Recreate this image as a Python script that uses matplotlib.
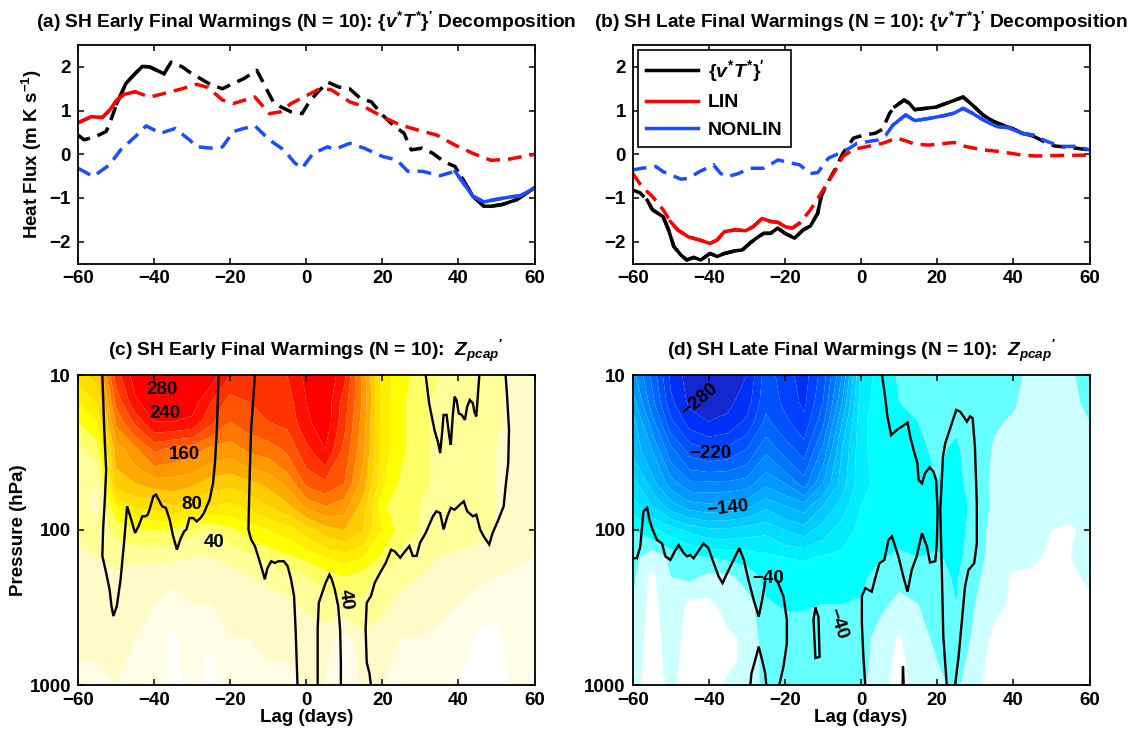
import numpy as np
import matplotlib
matplotlib.use("Agg")
import matplotlib.pyplot as plt
from matplotlib.lines import Line2D
from matplotlib.ticker import FixedLocator, FixedFormatter, NullLocator

plt.rcParams['font.family'] = ['Liberation Sans', 'DejaVu Sans']
plt.rcParams['font.weight'] = 'bold'
plt.rcParams['axes.labelweight'] = 'bold'
plt.rcParams['axes.titleweight'] = 'bold'
plt.rcParams['mathtext.fontset'] = 'custom'
plt.rcParams['mathtext.rm'] = 'Liberation Sans:bold'
plt.rcParams['mathtext.bf'] = 'Liberation Sans:bold'
plt.rcParams['mathtext.it'] = 'Liberation Sans:italic:bold'
plt.rcParams['mathtext.default'] = 'bf'

# ---------------- data: heat flux decomposition ----------------
a_black_lag = [-60, -58.4, -55.5, -52.6, -51.7, -49.8, -47.4, -45.5, -43.1, -41.2, -38.3, -37.4, -35.5, -32.6,
               -30.7, -27.8, -24.9, -22.0, -19.2, -16.4, -13.0, -11.6, -8.7, -6.8, -4.0, -1.1, 0.8, 2.7, 5.6,
               8.5, 11.4, 14.2, 17.1, 20.0, 22.8, 25.7, 27.6, 30.5, 33.3, 36.2, 39.1, 41.0, 43.8, 46.7, 48.6,
               51.5, 55.3, 60]
a_black_val = [0.44, 0.33, 0.40, 0.52, 0.70, 1.16, 1.62, 1.80, 2.01, 2.00, 1.88, 1.84, 2.11, 2.00,
               1.88, 1.73, 1.58, 1.50, 1.62, 1.73, 1.92, 1.69, 1.20, 1.09, 0.97, 0.93, 1.20, 1.39, 1.65,
               1.54, 1.50, 1.28, 1.20, 0.90, 0.67, 0.48, 0.10, 0.14, 0.02, -0.17, -0.28, -0.55, -0.96, -1.19, -1.19,
               -1.15, -1.04, -0.77]
a_red_lag = [-60, -56.5, -53.6, -51.7, -49.8, -47.9, -45.0, -41.2, -38.3, -32.6, -28.8, -25.9, -22.0, -19.2,
             -13.5, -9.7, -6.8, -4.0, -0.2, 3.6, 6.5, 11.4, 15.2, 20.0, 24.7, 29.5, 34.3, 39.1, 43.8, 48.6,
             53.4, 60]
a_red_val = [0.72, 0.86, 0.84, 1.01, 1.24, 1.37, 1.43, 1.31, 1.37, 1.50, 1.60, 1.53, 1.24, 1.16,
             1.31, 0.93, 0.97, 1.16, 1.33, 1.50, 1.48, 1.20, 1.09, 0.86, 0.67, 0.55, 0.44, 0.21, 0.02, -0.14,
             -0.11, 0.0]
a_blue_lag = [-60, -56, -51.7, -48.8, -45, -42.1, -38.3, -34.5, -30.7, -28.8, -24.9, -22, -19.2, -16.4, -13.5,
              -9.7, -5.9, -3.0, -1.1, 1.8, 5.6, 7.5, 11.4, 15.2, 20, 23.8, 26.7, 30.5, 35.2, 39.1, 41, 43.8,
              46.7, 49.5, 53.4, 56.3, 60]
a_blue_val = [-0.32, -0.51, -0.24, 0.10, 0.40, 0.65, 0.48, 0.59, 0.33, 0.17, 0.14, 0.17, 0.52, 0.59, 0.65,
              0.33, 0.10, -0.20, -0.32, 0.02, 0.17, 0.11, 0.25, 0.14, -0.05, -0.13, -0.39, -0.39, -0.49, -0.39,
              -0.62, -0.96, -1.09, -1.04, -0.98, -0.95, -0.77]

b_black_lag = [-60, -58.1, -56.2, -54.8, -52, -50.6, -49.2, -47.3, -45.8, -44, -42.1, -39.7, -37.8, -35.9,
               -33.1, -31.2, -29.3, -27.5, -25.6, -23.8, -21.9, -20, -17.5, -15.2, -13.3, -11.4, -10.5, -9.1,
               -6.7, -4.8, -2, 0.8, 3.7, 5.6, 7.5, 8.9, 11.3, 12.6, 14.1, 16.9, 19.7, 22.5, 25.3, 26.8, 29.2,
               32, 34.8, 37.6, 39.5, 42.3, 45.1, 48, 50.8, 55.5, 60]
b_black_val = [-0.82, -0.88, -1.05, -1.27, -1.43, -1.73, -2.11, -2.31, -2.42, -2.36, -2.42, -2.27, -2.34, -2.27,
               -2.21, -2.19, -2.04, -1.92, -1.81, -1.81, -1.69, -1.81, -1.92, -1.73, -1.64, -1.35, -0.97, -0.70,
               -0.32, 0.02, 0.37, 0.44, 0.48, 0.57, 0.94, 1.09, 1.24, 1.17, 1.02, 1.05, 1.08, 1.17, 1.26, 1.31,
               1.13, 0.90, 0.75, 0.65, 0.60, 0.48, 0.42, 0.29, 0.19, 0.15, 0.10]
b_red_lag = [-60, -57.6, -54.8, -52, -50.1, -48.2, -45.4, -42.5, -39.7, -37.8, -35.9, -33.1, -30.3, -28.4, -26,
             -23.7, -21.8, -19.9, -18.1, -16.2, -13.3, -10.5, -6.7, -4.8, -2, 1.8, 5.6, 9.4, 12.3, 14.1, 17.8,
             24.4, 27.3, 32, 36.7, 42.3, 46.1, 50.8, 60]
b_red_val = [-0.44, -0.74, -0.97, -1.27, -1.54, -1.73, -1.89, -1.96, -2.04, -1.96, -1.77, -1.73, -1.75, -1.66,
             -1.47, -1.54, -1.56, -1.66, -1.69, -1.58, -1.27, -0.89, -0.36, -0.05, 0.11, 0.18, 0.25, 0.37, 0.29,
             0.23, 0.21, 0.27, 0.18, 0.10, 0.06, -0.02, -0.04, -0.03, -0.02]
b_blue_lag = [-60, -57.6, -53.9, -52, -50.1, -47.3, -45.4, -42.5, -40.6, -38.8, -36.9, -35, -32.2, -29.3, -25.6,
              -21.8, -19, -16.2, -13.3, -11.4, -8.6, -5.8, -3, -1.1, 1.8, 4.6, 6.5, 8.4, 11.7, 14.1, 17.8, 21.6,
              24.4, 26.8, 29.2, 32, 35.8, 38.6, 42.3, 45.1, 48.9, 52.6, 56.5, 60]
b_blue_val = [-0.36, -0.32, -0.28, -0.40, -0.47, -0.57, -0.55, -0.40, -0.32, -0.24, -0.44, -0.51, -0.44, -0.32,
              -0.32, -0.13, -0.19, -0.24, -0.44, -0.42, -0.09, 0.02, 0.14, 0.25, 0.29, 0.33, 0.44, 0.67, 0.90,
              0.77, 0.82, 0.88, 0.94, 1.05, 0.94, 0.79, 0.63, 0.61, 0.48, 0.44, 0.29, 0.18, 0.18, 0.10]

# lag ranges where each series is significant (drawn solid)
a_black_sig = [(-50, -37), (40, 60)]
a_red_sig = [(-60, -45)]
a_blue_sig = [(39, 60)]
b_black_sig = [(-56.5, -10.5), (8.5, 45.5)]
b_red_sig = [(-51, -15.5)]
b_blue_sig = [(8, 45.5)]

# ---------------- data: polar cap geopotential height composites ----------------
lags_grid = [-60, -55, -50, -45, -40, -35, -30, -25, -20, -15, -10, -5, 0, 5, 10, 15, 20, 25, 30, 35, 40, 45,
             50, 55, 60]
pres_grid = [10, 15, 20, 30, 50, 70, 100, 150, 200, 300, 500, 700, 1000]

z_early = [
    [130, 150, 250, 290, 300, 310, 300, 290, 260, 250, 255, 260, 285, 300, 265, 190, 110, 90, 70, 60, 60, 55, 50, 30, 25],
    [100, 120, 225, 275, 295, 300, 290, 260, 230, 240, 245, 250, 280, 295, 250, 195, 110, 85, 65, 55, 55, 50, 45, 30, 25],
    [80, 100, 205, 245, 280, 280, 275, 245, 220, 230, 240, 245, 275, 295, 245, 190, 110, 85, 65, 55, 55, 50, 45, 30, 20],
    [55, 70, 170, 195, 225, 215, 210, 195, 190, 205, 210, 225, 255, 280, 235, 185, 110, 85, 65, 55, 50, 50, 40, 30, 20],
    [45, 40, 150, 160, 170, 170, 165, 150, 145, 155, 165, 185, 225, 235, 220, 170, 105, 75, 65, 55, 50, 45, 40, 30, 20],
    [45, 35, 100, 125, 125, 140, 125, 120, 115, 125, 140, 155, 185, 200, 190, 150, 85, 65, 60, 55, 50, 45, 40, 30, 20],
    [50, 50, 65, 75, 80, 75, 65, 60, 75, 90, 100, 110, 130, 150, 160, 140, 100, 70, 60, 55, 50, 45, 40, 30, 20],
    [30, 40, 50, 45, 45, 45, 40, 40, 45, 55, 65, 75, 85, 100, 110, 100, 75, 55, 45, 40, 35, 35, 30, 25, 20],
    [30, 35, 35, 30, 30, 25, 30, 30, 35, 40, 45, 50, 60, 70, 80, 70, 55, 45, 40, 35, 30, 25, 20, 15, 15],
    [25, 30, 30, 25, 20, 10, 20, 20, 25, 25, 30, 35, 45, 50, 55, 55, 45, 35, 30, 25, 20, 10, 5, 15, 20],
    [25, 25, 25, 20, 15, -5, 15, 10, 20, 20, 25, 25, 25, 30, 10, 35, 30, 20, 20, 15, 15, -5, -5, 10, 15],
    [20, 20, 25, 15, 10, -5, 10, -5, 15, 15, 20, 20, 25, 25, -5, 30, 25, 15, 15, 10, 10, -10, -10, 10, 10],
    [15, -5, 20, 15, 10, -5, 5, -5, 10, 15, 15, 15, 20, 20, 5, 25, 20, 10, 10, 15, -5, -10, -10, 10, 5],
]
z_late = [
    [-170, -225, -285, -310, -315, -310, -300, -250, -270, -290, -250, -180, -75, -50, -38, -36, -32, -33, -30, -28, -25, -15, -12, -15, -35],
    [-150, -210, -275, -305, -310, -305, -290, -245, -265, -285, -240, -160, -70, -50, -40, -38, -34, -35, -30, -26, -22, -12, -10, -15, -25],
    [-130, -190, -255, -290, -300, -295, -275, -235, -255, -275, -225, -140, -65, -50, -42, -40, -36, -38, -30, -22, -18, -12, -10, -12, -20],
    [-125, -160, -215, -250, -260, -255, -240, -205, -230, -250, -195, -120, -65, -50, -45, -42, -38, -42, -32, -18, -15, -10, -8, -10, -15],
    [-90, -130, -170, -195, -195, -195, -190, -165, -180, -210, -160, -110, -65, -55, -50, -45, -40, -45, -32, -15, -12, -10, -8, -8, -10],
    [-70, -100, -130, -150, -155, -150, -145, -125, -140, -150, -120, -90, -60, -55, -50, -48, -45, -48, -35, -15, -10, -8, -5, -5, -5],
    [-40, -55, -70, -85, -95, -95, -90, -85, -100, -110, -90, -70, -55, -52, -50, -48, -45, -48, -32, -12, -8, -5, 0, 2, -5],
    [-30, -5, -25, -35, -40, -45, -48, -55, -60, -62, -58, -55, -50, -42, -35, -40, -38, -45, -30, -10, -5, -2, 2, 0, 0],
    [-25, 5, -20, -25, -15, -15, -30, -45, -50, -52, -50, -48, -45, -30, -25, -30, -35, -42, -25, -8, 2, 2, 5, 2, -2],
    [-20, 8, -15, 5, 5, -10, -10, -38, -42, -42, -40, -40, -38, -25, -15, -20, -30, -40, -20, -5, 3, 5, 5, 5, 3],
    [-15, 10, -10, 8, 8, 5, -5, -30, -30, -30, -28, -30, -30, -10, 2, -12, -25, -35, -15, 5, 8, 8, 8, 8, 5],
    [-12, 10, -8, 10, 10, 5, -5, -28, -28, -28, -28, -30, -28, -10, 5, -10, -20, -30, -10, 8, 10, 10, 10, 10, 8],
    [-10, 12, -5, 10, 12, -5, -10, -25, -28, -28, -28, -28, -25, -5, 5, -5, -15, -25, -5, 10, 12, 12, 12, 12, 10],
]

# significance boundary lines (lag, pressure)
c_sig_lines = [
    ([-53.6, -53.1, -52.6, -52.9, -53.4, -53.6, -52.6, -51.7, -51.2, -50.7, -49.8, -48.8, -47.9, -47.1, -46.0,
      -45.0, -44.1, -43.1, -42.3, -41.7, -41.2, -40.2, -39.5, -38.8, -37.9, -36.9, -35.9, -35.0, -34.0, -33.1,
      -32.1, -31.5, -30.7, -29.7, -28.8, -27.8, -26.9, -25.4, -24.5, -24.0, -23.5, -23.2, -23.1],
     [10, 22.6, 40.9, 60.6, 99.2, 147, 189, 242, 310, 359, 310, 208, 121, 70.3, 85.8, 104.5, 94.8, 81.6, 81.6,
      79.7, 74, 60.6, 59.1, 63.7, 70.3, 72, 85.8, 109.5, 134, 115, 102, 99.2, 83.7, 83.7, 88, 83.7, 77.7, 63.7,
      49.8, 37, 22.6, 13.8, 10]),
    ([-13.5, -14.5, -14.9, -15.2, -14.5, -13.5, -12.4, -11.6, -10.9, -10.2, -9.2, -8.3, -7.3, -5.9, -4.9, -4.0,
      -3.2, -2.8, -2.5, -2.3],
     [10, 22.6, 47.5, 99.2, 115, 127, 155, 180, 208, 176, 159, 163, 159, 159, 171, 208, 267, 436, 717, 1000]),
    ([3.0, 3.0, 3.3, 4.2, 5.1, 6.1, 6.7, 7.5, 8.4, 8.9, 9.1, 9.1],
     [1000, 436, 295, 254, 219, 194, 208, 242, 310, 436, 717, 1000]),
    ([17.0, 16.6, 15.9, 15.6, 15.9, 17.0, 18.0, 19.4, 20.9, 22.3, 23.2, 24.7, 25.6, 27.1, 28.0, 29.0, 29.9, 31.4,
      33.3, 34.2, 35.2, 36.1, 37.1, 38.0, 39.0, 40.4, 41.4, 42.3, 43.8, 44.7, 45.7, 46.6, 48.1, 49.0, 50.5, 51.9,
      52.4, 53.1, 53.3, 52.8, 52.4],
     [1000, 835, 717, 436, 295, 267, 219, 189, 163, 134, 137, 151, 141, 127, 147, 147, 121, 104.5, 81.6, 75.7,
      77.7, 99.2, 81.6, 72, 74, 68.6, 65.3, 75.7, 81.6, 79.7, 99.2, 109.5, 124, 104.5, 85.8, 70.3, 52.5, 37,
      22.6, 13.8, 10]),
    ([31.4, 32.3, 33.7, 34.7, 35.2, 35.7, 36.1, 36.9, 37.6, 38.0, 38.5, 39.0, 39.5, 40.1, 40.9, 41.7, 42.3, 43.0,
      43.8, 44.2, 44.7, 45.5],
     [10, 15.2, 22.6, 27.5, 31.9, 23.7, 18.1, 18.1, 24.9, 28.2, 18.5, 13.8, 14.5, 17.7, 18.1, 19.5, 16.0, 14.5,
      15.2, 17.3, 18.5, 10]),
]
d_sig_lines = [
    ([-60.0, -58.9, -58.0, -57.2, -56.2, -55.6, -54.8, -53.6, -52.3, -51.4, -50.1, -48.8, -47.9, -46.6, -45.7,
      -44.9, -44.0, -43.1, -41.4, -40.1, -38.7, -37.4, -36.4, -35.2, -33.5, -32.0, -30.8, -29.6, -28.2, -26.9,
      -26.0, -25.2],
     [152, 152, 128, 76, 72, 86, 99, 116, 122, 148, 156, 135, 125, 141, 148, 145, 152, 141, 122, 131, 164, 200,
      220, 190, 156, 131, 156, 210, 283, 362, 283, 215]),
    ([-22.0, -20.4, -19.5, -19.5, -20.4, -21.5],
     [213, 268, 380, 537, 762, 1000]),
    ([-29.1, -28.8, -27.8, -26.9, -26.0, -25.2, -24.9],
     [1000, 840, 690, 565, 690, 840, 1000]),
    ([-12.0, -11.2, -10.9, -12.0, -12.5, -12.0],
     [320, 362, 658, 670, 380, 320]),
    ([5.5, 6.3, 6.9, 7.9, 9.4, 10.7, 12.2, 12.9, 13.8, 14.8, 15.1, 16.0, 16.8, 18.0, 19.0, 19.7, 20.1, 19.9, 19.5,
      18.1, 17.3, 16.0, 14.6, 13.3, 12.2, 11.1, 9.8, 8.1, 7.2, 6.1, 4.8, 3.7, 2.8, 1.1, 0.2, 0.2, 0.6, 1.1],
     [10, 13.8, 18.5, 24.4, 22.6, 21.5, 20.3, 25.0, 30.5, 37.2, 47.5, 50, 43, 39.4, 42, 47.5, 74.3, 122, 159,
      162, 128, 105, 148, 181, 250, 200, 148, 110, 116, 156, 164, 205, 250, 237, 268, 400, 658, 1000]),
    ([22.5, 21.6, 21.2, 20.8, 21.5, 22.1, 23.4, 25.0, 26.0, 26.9, 27.8, 28.6, 29.3, 29.9, 30.4, 30.4, 29.7, 28.2,
      27.3, 26.5, 25.6, 24.7],
     [1000, 487, 181, 74.3, 33.7, 27.6, 22.1, 16.8, 17.2, 18.5, 20, 18.5, 19, 29, 67.3, 122, 164, 181, 232, 380,
      658, 1000]),
    ([10.9, 11.0, 11.2], [1000, 760, 1000]),
]

# ---------------- styles ----------------
c_levels = [-100, 0, 20, 40, 60, 80, 100, 120, 140, 160, 180, 200, 220, 240, 260, 280, 500]
c_colors = ['#ffffff', '#fffde6', '#fffbc8', '#ffff99', '#ffff66', '#ffff00', '#ffee00', '#ffdd00', '#ffcc00',
            '#ffaa00', '#ff9900', '#ff7700', '#ff5500', '#ff3300', '#ff1100', '#ff0000']
d_levels = [-500, -300, -280, -260, -240, -220, -200, -180, -160, -140, -120, -100, -80, -60, -40, -20, 0, 100]
d_colors = ['#1428d2', '#0030f5', '#0040ff', '#0052ff', '#0064ff', '#0076ff', '#0088ff', '#0099ff', '#00aaff',
            '#00bbff', '#00ccff', '#00ddff', '#00eeff', '#00ffff', '#66ffff', '#ccffff', '#ffffff']

RED = '#ff0000'
BLUE = '#1a4dff'
BLACK = '#000000'
LW = 2.5
DASH = (4.0, 2.3)
FS = 13.5
TFS = 13.8

fig = plt.figure(figsize=(11.33, 7.41), dpi=100)
W, H = 1133.0, 741.0


def add_ax(x0, x1, ytop, ybot):
    return fig.add_axes([x0 / W, 1 - ybot / H, (x1 - x0) / W, (ybot - ytop) / H])


ax_a = add_ax(78, 534.5, 45, 263.5)
ax_b = add_ax(632.7, 1089.5, 45, 263.5)
ax_c = add_ax(78, 534.5, 375, 685)
ax_d = add_ax(632.7, 1089.5, 375, 685)


def style_axes(ax):
    for s in ax.spines.values():
        s.set_linewidth(1.3)
    ax.tick_params(direction='in', top=True, right=True, length=4, width=1.1, labelsize=FS, pad=5)
    for lab in ax.get_xticklabels() + ax.get_yticklabels():
        lab.set_fontweight('bold')


def sig_mask(lags, ranges):
    lags = np.asarray(lags, float)
    m = np.zeros(len(lags), bool)
    for lo, hi in ranges:
        m |= (lags >= lo) & (lags <= hi)
    return m


def draw_series(ax, lags, vals, sig, color):
    lags = np.asarray(lags, float)
    vals = np.asarray(vals, float)
    ax.plot(lags, vals, color=color, lw=LW, dashes=DASH, solid_capstyle='butt', dash_capstyle='butt')
    m = sig_mask(lags, sig)
    ax.plot(lags, np.where(m, vals, np.nan), color=color, lw=LW, solid_joinstyle='round')


vt_label = r'$\{\mathit{v}^{*}\mathit{T}^{*}\}^{\prime}$'

for ax, series, title in [
    (ax_a, [(a_black_lag, a_black_val, a_black_sig, BLACK), (a_red_lag, a_red_val, a_red_sig, RED),
            (a_blue_lag, a_blue_val, a_blue_sig, BLUE)],
     r'(a) SH Early Final Warmings (N = 10): ' + vt_label + ' Decomposition'),
    (ax_b, [(b_black_lag, b_black_val, b_black_sig, BLACK), (b_red_lag, b_red_val, b_red_sig, RED),
            (b_blue_lag, b_blue_val, b_blue_sig, BLUE)],
     r'(b) SH Late Final Warmings (N = 10): ' + vt_label + ' Decomposition'),
]:
    for lg, vl, sg, col in series:
        draw_series(ax, lg, vl, sg, col)
    ax.set_xlim(-60, 60)
    ax.set_ylim(-2.5, 2.5)
    ax.set_xticks([-60, -40, -20, 0, 20, 40, 60])
    ax.set_yticks([-2, -1, 0, 1, 2])
    ax.set_title(title, fontsize=TFS, fontweight='bold', pad=12)
    style_axes(ax)

ax_a.set_ylabel(r'Heat Flux (m K s$^{-1}$)', fontsize=FS, fontweight='bold', labelpad=4)

handles = [Line2D([], [], color=BLACK, lw=LW), Line2D([], [], color=RED, lw=LW), Line2D([], [], color=BLUE, lw=LW)]
leg = ax_b.legend(handles, [vt_label, 'LIN', 'NONLIN'], loc='upper left', bbox_to_anchor=(0.012, 0.975),
                  frameon=True, fancybox=False, framealpha=1, edgecolor='black', fontsize=14,
                  handlelength=2.7, handletextpad=0.5, borderpad=0.4, labelspacing=0.5, borderaxespad=0)
leg.get_frame().set_linewidth(1.2)
for t in leg.get_texts():
    t.set_fontweight('bold')

LG, PG = np.meshgrid(np.asarray(lags_grid, float), np.asarray(pres_grid, float))

for ax, field, levels, colors, lines, title in [
    (ax_c, z_early, c_levels, c_colors, c_sig_lines,
     r'(c) SH Early Final Warmings (N = 10):  $\mathit{Z}_{\mathit{pcap}}{}^{\prime}$'),
    (ax_d, z_late, d_levels, d_colors, d_sig_lines,
     r'(d) SH Late Final Warmings (N = 10):  $\mathit{Z}_{\mathit{pcap}}{}^{\prime}$'),
]:
    ax.contourf(LG, PG, np.asarray(field, float), levels=levels, colors=colors, antialiased=True)
    for lx, py in lines:
        ax.plot(lx, py, color='black', lw=1.7, solid_joinstyle='miter')
    ax.set_yscale('log')
    ax.set_ylim(1000, 10)
    ax.set_xlim(-60, 60)
    ax.yaxis.set_major_locator(FixedLocator([10, 100, 1000]))
    ax.yaxis.set_major_formatter(FixedFormatter(['10', '100', '1000']))
    ax.yaxis.set_minor_locator(NullLocator())
    ax.set_xticks([-60, -40, -20, 0, 20, 40, 60])
    ax.set_xlabel('Lag (days)', fontsize=FS, fontweight='bold', labelpad=0)
    ax.set_title(title, fontsize=TFS, fontweight='bold', pad=14)
    style_axes(ax)

ax_c.set_ylabel('Pressure (hPa)', fontsize=FS, fontweight='bold', labelpad=2)

lab_kw = dict(ha='center', va='center', fontsize=FS, fontweight='bold', color='black')
ax_c.text(-37.9, 12.4, '280', **lab_kw)
ax_c.text(-37.2, 17.6, '240', **lab_kw)
ax_c.text(-32.1, 32.7, '160', **lab_kw)
ax_c.text(-30.0, 68.6, '80', **lab_kw)
ax_c.text(-24.2, 121, '40', **lab_kw)
ax_c.text(10.4, 282, '40', rotation=-82, **lab_kw)

ax_d.text(-42.5, 14.5, '\u2212280', rotation=40, **lab_kw)
ax_d.text(-39.7, 31.9, '\u2212220', **lab_kw)
ax_d.text(-35.0, 72, '\u2212140', rotation=6, **lab_kw)
ax_d.text(-24.3, 205, '\u221240', **lab_kw)
ax_d.text(-6.2, 405, '\u221240', rotation=-72, **lab_kw)

fig.savefig('out.png', dpi=100)
